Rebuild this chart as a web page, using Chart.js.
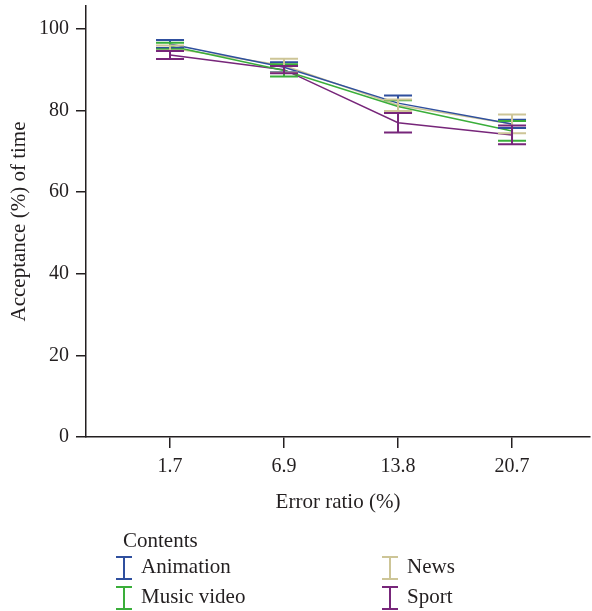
<!DOCTYPE html>
<html>
<head>
<meta charset="utf-8">
<script src="https://cdn.jsdelivr.net/npm/chart.js@4"></script>
<style>
    html, body { margin: 0; padding: 0; background: #fff; }
    #wrap { width: 592px; height: 611px; position: relative; }
</style>
</head>
<body>
<div id="wrap"><canvas id="acceptChart" width="592" height="611"></canvas></div>
<script>
// error ratio categories (x axis)
const errorRatios = ["1.7", "6.9", "13.8", "20.7"];

// mean acceptance (%) per content type
const animation = [96.3, 90.6, 81.8, 76.7];
const musicVideo = [95.8, 89.8, 81.0, 75.0];
const news = [95.3, 91.0, 81.3, 76.7];
const sport = [93.6, 90.0, 77.0, 74.0];

// half-length of the error bars
const animationErr = [1.0, 1.2, 1.9, 1.0];
const musicVideoErr = [0.8, 1.5, 1.5, 2.4];
const newsErr = [0.6, 1.7, 1.4, 2.3];
const sportErr = [1.0, 0.9, 2.4, 2.3];

const yTicks = [0, 20, 40, 60, 80, 100];

const SERIF = "'Liberation Serif', 'DejaVu Serif', serif";
const INK = "#231f20";

function series(label, values, errors, color) {
    return {
        label: label,
        data: values.map((v, i) => ({ x: i, y: v })),
        errors: errors,
        borderColor: color,
        backgroundColor: color,
        borderWidth: 1.5,
        pointRadius: 0,
        tension: 0,
        fill: false
    };
}

/**
 * error bars with caps, drawn through the scales
 */
const errorBars = {
    id: "errorBars",
    afterDatasetsDraw(chart) {
        const { ctx } = chart;
        const xs = chart.scales.x;
        const ys = chart.scales.y;
        const cap = 14;
        chart.data.datasets.forEach(ds => {
            ctx.save();
            ctx.strokeStyle = ds.borderColor;
            ctx.lineWidth = 2;
            ds.data.forEach((p, i) => {
                const e = ds.errors[i];
                const px = xs.getPixelForValue(p.x);
                const top = ys.getPixelForValue(p.y + e);
                const bot = ys.getPixelForValue(p.y - e);
                ctx.beginPath();
                ctx.moveTo(px, top);
                ctx.lineTo(px, bot);
                ctx.moveTo(px - cap, top);
                ctx.lineTo(px + cap, top);
                ctx.moveTo(px - cap, bot);
                ctx.lineTo(px + cap, bot);
                ctx.stroke();
            });
            ctx.restore();
        });
    }
};

/**
 * legend below the axis: title + two columns of error-bar glyphs
 */
const contentsLegend = {
    id: "contentsLegend",
    afterDraw(chart) {
        const { ctx } = chart;
        const cols = [124, 390];
        const rows = [568, 598];
        ctx.save();
        ctx.font = "21px " + SERIF;
        ctx.fillStyle = INK;
        ctx.textBaseline = "middle";
        ctx.textAlign = "left";
        ctx.fillText("Contents", 123, 541);

        // column-wise order: Animation, Music video | News, Sport
        chart.data.datasets.forEach((ds, i) => {
            const cx = cols[Math.floor(i / 2)];
            const cy = rows[i % 2];
            ctx.strokeStyle = ds.borderColor;
            ctx.lineWidth = 2;
            ctx.beginPath();
            ctx.moveTo(cx, cy - 11);
            ctx.lineTo(cx, cy + 11);
            ctx.moveTo(cx - 8, cy - 11);
            ctx.lineTo(cx + 8, cy - 11);
            ctx.moveTo(cx - 8, cy + 11);
            ctx.lineTo(cx + 8, cy + 11);
            ctx.stroke();
            ctx.fillStyle = INK;
            ctx.fillText(ds.label, cx + 17, cy - 1);
        });
        ctx.restore();
    }
};

const canvas = document.getElementById("acceptChart");

new Chart(canvas, {
    type: "line",
    data: {
        datasets: [
            series("Animation", animation, animationErr, "#2f4f9e"),
            series("Music video", musicVideo, musicVideoErr, "#3aae3a"),
            series("News", news, newsErr, "#cdc597"),
            series("Sport", sport, sportErr, "#77267a")
        ]
    },
    options: {
        responsive: false,
        animation: false,
        layout: { padding: { left: 0, top: 6, right: 2, bottom: 0 } },
        plugins: {
            legend: { display: false },
            tooltip: { enabled: false }
        },
        scales: {
            x: {
                type: "linear",
                min: -0.737,
                max: 3.684,
                afterBuildTicks(scale) {
                    scale.ticks = errorRatios.map((_, i) => ({ value: i }));
                },
                afterFit(scale) {
                    scale.height = 174;
                    scale.paddingLeft = 0;
                    scale.paddingRight = 0;
                },
                border: { display: true, color: INK, width: 1.5 },
                grid: {
                    drawOnChartArea: false,
                    drawTicks: true,
                    tickLength: 11,
                    color: INK,
                    lineWidth: 1.5
                },
                ticks: {
                    padding: 7,
                    maxRotation: 0,
                    color: INK,
                    font: { family: SERIF, size: 20 },
                    callback: v => errorRatios[v]
                },
                title: {
                    display: true,
                    text: "Error ratio (%)",
                    color: INK,
                    font: { family: SERIF, size: 21 },
                    padding: { top: 0, bottom: 96 }
                }
            },
            y: {
                min: 0,
                max: 105.6,
                afterBuildTicks(scale) {
                    scale.ticks = yTicks.map(v => ({ value: v }));
                },
                afterFit(scale) {
                    scale.width = 86;
                    scale.paddingTop = 0;
                    scale.paddingBottom = 0;
                },
                border: { display: true, color: INK, width: 1.5 },
                grid: {
                    drawOnChartArea: false,
                    drawTicks: true,
                    tickLength: 10,
                    color: INK,
                    lineWidth: 1.5
                },
                ticks: {
                    padding: 7,
                    color: INK,
                    font: { family: SERIF, size: 20 }
                },
                title: {
                    display: true,
                    text: "Acceptance (%) of time",
                    color: INK,
                    font: { family: SERIF, size: 21 },
                    padding: { top: 7, bottom: 0 }
                }
            }
        }
    },
    plugins: [errorBars, contentsLegend]
});
</script>
</body>
</html>
